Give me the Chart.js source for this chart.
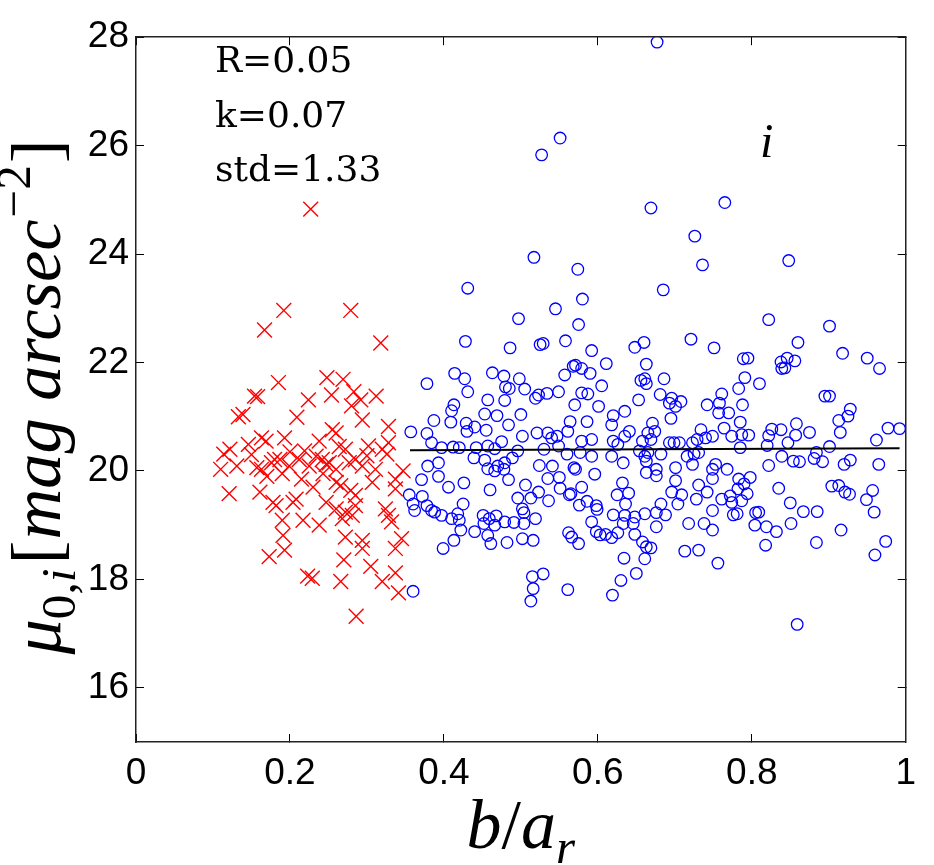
<!DOCTYPE html>
<html>
<head>
<meta charset="utf-8">
<script src="https://cdn.jsdelivr.net/npm/chart.js@4.4.0/dist/chart.umd.min.js"></script>
<style>
  html, body { margin: 0; padding: 0; background: #fff; }
  #wrap { width: 934px; height: 865px; position: relative; }
</style>
</head>
<body>
<div id="wrap"><canvas id="chart"></canvas></div>
<script>
// axis ticks
const xTicks = [0, 0.2, 0.4, 0.6, 0.8, 1];
const yTicks = [16, 18, 20, 22, 24, 26, 28];

// red crosses (b/a_r < 0.35)
const crossX = [0.192, 0.279, 0.167, 0.318, 0.227, 0.185, 0.248, 0.269, 0.158, 0.224, 0.254, 0.283, 0.292, 0.312, 0.280,
  0.133, 0.139, 0.209, 0.294, 0.328, 0.255, 0.260, 0.122, 0.114, 0.146, 0.163, 0.169, 0.193, 0.219, 0.234,
  0.242, 0.251, 0.272, 0.285, 0.302, 0.320, 0.326, 0.328, 0.110, 0.131, 0.157, 0.163, 0.176, 0.180, 0.187,
  0.199, 0.212, 0.225, 0.247, 0.260, 0.277, 0.294, 0.311, 0.347, 0.337, 0.121, 0.161, 0.178, 0.182, 0.208,
  0.204, 0.230, 0.247, 0.260, 0.266, 0.279, 0.285, 0.307, 0.337, 0.260, 0.272, 0.285, 0.324, 0.328, 0.332,
  0.190, 0.217, 0.238, 0.268, 0.281, 0.191, 0.272, 0.294, 0.294, 0.345, 0.337, 0.173, 0.193, 0.223, 0.229,
  0.266, 0.270, 0.305, 0.320, 0.337, 0.341, 0.286, 0.154, 0.150, 0.238, 0.264, 0.300, 0.243, 0.215, 0.190,
  0.170, 0.200];
const crossY = [22.96, 22.96, 22.60, 22.36, 24.83, 21.63, 21.72, 21.69, 21.37, 21.31, 21.40, 21.46, 21.31, 21.38, 21.20,
  21.00, 21.04, 20.99, 20.94, 20.82, 20.76, 20.70, 20.40, 20.31, 20.49, 20.61, 20.55, 20.61, 20.37, 20.27,
  20.21, 20.15, 20.40, 20.21, 20.46, 20.40, 20.31, 20.52, 20.03, 20.09, 20.06, 20.03, 20.15, 20.21, 20.21,
  20.09, 20.21, 20.09, 20.12, 20.03, 20.15, 20.09, 20.03, 20.00, 19.85, 19.58, 19.61, 19.42, 19.36, 19.48,
  19.42, 19.70, 19.42, 19.79, 19.73, 19.64, 19.55, 19.79, 19.67, 19.30, 19.24, 19.36, 19.30, 19.18, 19.06,
  19.09, 19.09, 19.00, 19.12, 19.18, 18.81, 18.78, 18.72, 18.57, 18.75, 18.57, 18.42, 18.54, 18.06, 18.02,
  17.96, 18.36, 18.24, 17.96, 18.12, 17.75, 17.32, 21.38, 20.30, 20.55, 20.45, 20.28, 19.95, 19.85, 19.95,
  19.90, 20.35];

// blue circles (b/a_r > 0.35)
const circleX = [0.677, 0.551, 0.527, 0.669, 0.765, 0.726, 0.736, 0.848, 0.517, 0.574, 0.431, 0.580, 0.685, 0.545, 0.497,
  0.575, 0.822, 0.901, 0.721,
  0.428, 0.486, 0.525, 0.529, 0.558, 0.568, 0.378, 0.414, 0.427, 0.431, 0.463, 0.478, 0.480, 0.485, 0.498,
  0.505, 0.519, 0.523, 0.534, 0.549, 0.557, 0.457, 0.479, 0.413, 0.410, 0.387, 0.409, 0.453, 0.469, 0.500,
  0.484, 0.429, 0.440, 0.430, 0.455, 0.357, 0.378, 0.502, 0.521, 0.535, 0.540, 0.547, 0.561, 0.564, 0.384,
  0.397, 0.412, 0.420, 0.442, 0.457, 0.475, 0.466, 0.496, 0.530, 0.549, 0.393, 0.379, 0.439, 0.453, 0.470,
  0.479, 0.489, 0.524, 0.541, 0.560, 0.569,
  0.371, 0.393, 0.406, 0.426, 0.460, 0.457, 0.466, 0.484, 0.478, 0.506, 0.523, 0.535, 0.550, 0.551, 0.563,
  0.536, 0.513, 0.496, 0.502, 0.504, 0.355, 0.360, 0.362, 0.372, 0.378, 0.384, 0.388, 0.397, 0.410, 0.418,
  0.425, 0.420, 0.422, 0.440, 0.451, 0.452, 0.459, 0.468, 0.466, 0.457, 0.461, 0.479, 0.491, 0.504, 0.519,
  0.413, 0.399, 0.482, 0.502, 0.516, 0.562, 0.566, 0.515, 0.529, 0.516, 0.513, 0.561, 0.360,
  0.648, 0.660, 0.751, 0.789, 0.592, 0.611, 0.663, 0.571, 0.579, 0.590, 0.656, 0.661, 0.663, 0.686, 0.605,
  0.579, 0.587, 0.681, 0.696, 0.708, 0.693, 0.701, 0.653, 0.761, 0.783, 0.788, 0.742, 0.758, 0.570, 0.601,
  0.757, 0.770, 0.695, 0.785, 0.635, 0.620, 0.586, 0.618, 0.671, 0.641, 0.635, 0.665, 0.674, 0.734, 0.749,
  0.764, 0.774, 0.787, 0.579, 0.592, 0.620, 0.626, 0.658, 0.669, 0.693, 0.699, 0.706, 0.723, 0.729, 0.740,
  0.785, 0.577, 0.592, 0.618, 0.654, 0.661, 0.665, 0.682, 0.716, 0.725, 0.731, 0.633, 0.663, 0.723, 0.753,
  0.571, 0.596, 0.676, 0.701, 0.749, 0.768,
  0.663, 0.676, 0.701, 0.749, 0.783, 0.731, 0.742, 0.565, 0.579, 0.632, 0.625, 0.640, 0.636, 0.696, 0.709,
  0.728, 0.761, 0.772, 0.774, 0.787, 0.576, 0.586, 0.598, 0.599, 0.682, 0.704, 0.749, 0.776, 0.620, 0.635,
  0.648, 0.661, 0.676, 0.688, 0.592, 0.633, 0.646, 0.676, 0.718, 0.738, 0.749, 0.575, 0.598, 0.603, 0.610,
  0.618, 0.626, 0.648, 0.658, 0.663, 0.669, 0.713, 0.731, 0.634, 0.661, 0.756, 0.650, 0.630, 0.619,
  0.860, 0.918, 0.950, 0.966, 0.795, 0.838, 0.846, 0.856, 0.839, 0.843, 0.791, 0.810, 0.895, 0.901, 0.928,
  0.925, 0.913, 0.915, 0.796, 0.826, 0.838, 0.822, 0.858, 0.857, 0.875, 0.820, 0.847, 0.901, 0.884, 0.977,
  0.992, 0.962, 0.839, 0.854, 0.862, 0.881, 0.892, 0.920, 0.928, 0.822, 0.965,
  0.798, 0.782, 0.794, 0.781, 0.835, 0.904, 0.913, 0.921, 0.927, 0.957, 0.949, 0.959, 0.850, 0.867, 0.885,
  0.805, 0.809, 0.804, 0.819, 0.832, 0.851, 0.916, 0.818, 0.884, 0.974, 0.960, 0.859, 0.790];
const circleY = [27.91, 26.14, 25.83, 24.85, 24.95, 24.33, 23.80, 23.88, 23.94, 23.72, 23.37, 23.17, 23.34, 22.99, 22.81,
  22.70, 22.79, 22.67, 22.43,
  22.39, 22.27, 22.33, 22.35, 22.40, 21.93, 21.61, 21.80, 21.70, 21.46, 21.81, 21.75, 21.55, 21.52, 21.70,
  21.51, 21.34, 21.40, 21.43, 21.46, 21.77, 21.31, 21.30, 21.22, 21.11, 20.93, 20.90, 21.05, 21.02, 21.04,
  20.85, 20.88, 20.81, 20.73, 20.75, 20.72, 20.69, 20.64, 20.70, 20.70, 20.61, 20.64, 20.73, 20.91, 20.52,
  20.43, 20.44, 20.43, 20.43, 20.46, 20.54, 20.41, 20.37, 20.40, 20.46, 20.15, 20.09, 20.24, 20.20, 20.09,
  20.15, 20.24, 20.10, 20.09, 20.31, 20.06,
  19.84, 19.90, 19.70, 19.78, 19.65, 20.04, 20.00, 19.84, 20.03, 19.74, 19.61, 19.86, 19.88, 19.68, 19.56,
  19.45, 19.50, 19.50, 19.30, 19.23, 19.56, 19.39, 19.27, 19.53, 19.36, 19.27, 19.24, 19.18, 19.12, 19.21,
  19.39, 19.09, 18.91, 18.88, 19.18, 19.03, 19.12, 19.17, 19.00, 18.81, 18.66, 19.06, 19.05, 19.03, 19.12,
  18.72, 18.57, 18.68, 18.75, 18.72, 18.86, 18.78, 18.05, 18.10, 17.83, 17.60, 17.81, 17.78,
  22.28, 22.37, 22.27, 22.07, 22.22, 21.98, 21.97, 21.95, 21.89, 21.80, 21.67, 21.70, 21.61, 21.70, 21.57,
  21.44, 21.42, 21.41, 21.34, 21.28, 21.25, 21.19, 21.31, 21.42, 21.52, 21.22, 21.22, 21.25, 21.22, 21.19,
  21.07, 21.07, 20.97, 20.90, 21.10, 21.02, 20.91, 20.85, 20.88, 20.73, 20.64, 20.70, 20.73, 20.76, 20.64,
  20.79, 20.64, 20.67, 20.55, 20.58, 20.55, 20.49, 20.55, 20.58, 20.52, 20.52, 20.52, 20.52, 20.58, 20.61,
  20.43, 20.34, 20.27, 20.27, 20.37, 20.27, 20.34, 20.31, 20.27, 20.31, 20.34, 20.15, 20.18, 20.12, 20.12,
  20.03, 19.94, 20.03, 20.06, 20.03, 20.03,
  19.97, 19.91, 19.82, 19.86, 19.85, 19.74, 19.61, 19.58, 19.70, 19.78, 19.56, 19.59, 19.39, 19.61, 19.56,
  19.48, 19.48, 19.54, 19.42, 19.45, 19.37, 19.44, 19.36, 19.29, 19.39, 19.39, 19.27, 19.19, 19.19, 19.18,
  19.15, 19.21, 19.23, 19.19, 19.06, 19.03, 19.03, 18.97, 19.03, 19.03, 18.91, 18.66, 18.88, 18.82, 18.83,
  18.77, 18.86, 18.83, 18.69, 18.60, 18.58, 18.52, 18.54, 18.39, 18.38, 18.30, 18.11, 17.98, 17.71,
  22.37, 22.17, 22.08, 21.89, 22.08, 22.01, 22.08, 22.03, 21.89, 21.90, 21.72, 21.61, 21.38, 21.38, 21.14,
  21.01, 20.93, 20.71, 20.66, 20.77, 20.76, 20.65, 20.87, 20.66, 20.71, 20.47, 20.52, 20.45, 20.34, 20.79,
  20.78, 20.57, 20.27, 20.18, 20.17, 20.23, 20.17, 20.12, 20.20, 20.10, 20.12,
  19.88, 19.67, 19.58, 19.21, 19.68, 19.72, 19.73, 19.61, 19.57, 19.64, 19.47, 19.24, 19.41, 19.25, 19.25,
  19.23, 19.24, 19.00, 18.97, 18.88, 19.03, 18.91, 18.63, 18.68, 18.70, 18.45, 17.17, 19.76];

// linear fit over the circles
const fitX = [0.356, 0.992];
const fitY = [20.38, 20.42];

const notes = ['R=0.05', 'k=0.07', 'std=1.33'];
const bandLabel = 'i';

const toPoints = (xs, ys) => xs.map((x, i) => ({ x: x, y: ys[i] }));

// rich text helpers for the math style axis titles
function partFont(p, size) {
  const s = size * (p.small ? 0.7 : 1);
  return (p.italic ? 'italic ' : '') + s.toFixed(1) + 'px "Liberation Serif"';
}
function richWidth(ctx, parts, size) {
  let w = 0;
  parts.forEach(p => {
    ctx.font = partFont(p, size);
    w += ctx.measureText(p.t).width + (p.gap || 0) * size;
  });
  return w;
}
function drawRich(ctx, parts, x, y, size) {
  parts.forEach(p => {
    ctx.font = partFont(p, size);
    ctx.fillText(p.t, x, y + (p.dy || 0) * size);
    x += ctx.measureText(p.t).width + (p.gap || 0) * size;
  });
}

const xTitle = [
  { t: 'b', italic: true }, { t: '/' }, { t: 'a', italic: true },
  { t: 'r', italic: true, small: true, dy: 0.22 }
];
const yTitle = [
  { t: 'μ', italic: true },
  { t: '0,', small: true, dy: 0.22 },
  { t: 'i', italic: true, small: true, dy: 0.22, gap: 0.06 },
  { t: '[', gap: 0.02 },
  { t: 'mag', italic: true, gap: 0.25 },
  { t: 'arcsec', italic: true, gap: 0.03 },
  { t: '−2', small: true, dy: -0.42, gap: 0.03 },
  { t: ']' }
];

const textPlugin = {
  id: 'textPlugin',
  afterDraw(chart) {
    const ctx = chart.ctx;
    const area = chart.chartArea;
    ctx.save();
    ctx.fillStyle = '#000';
    ctx.textBaseline = 'alphabetic';
    ctx.textAlign = 'left';

    // notes in the corner
    ctx.font = '36px "DejaVu Serif"';
    const noteBase = [72, 127, 181];
    notes.forEach((n, i) => ctx.fillText(n, area.left + 79, noteBase[i]));

    ctx.font = 'italic 48px "Liberation Serif"';
    ctx.fillText(bandLabel, 760, 157);

    // x title
    const xs = 70;
    const xw = richWidth(ctx, xTitle, xs);
    drawRich(ctx, xTitle, (area.left + area.right) / 2 - xw / 2, 848, xs);

    // y title, rotated
    const w0 = richWidth(ctx, yTitle, 60);
    const ys = 60 * 515 / w0;
    const yw = richWidth(ctx, yTitle, ys);
    ctx.translate(60, 397);
    ctx.rotate(-Math.PI / 2);
    drawRich(ctx, yTitle, -yw / 2, 0, ys);
    ctx.restore();
  }
};

const tickFont = { family: '"Liberation Sans", Arial, sans-serif', size: 37 };
const gridInside = { drawOnChartArea: false, tickLength: -8, tickColor: '#000', tickWidth: 1 };
const frame = { display: true, color: '#222', width: 1.5 };

new Chart(document.getElementById('chart'), {
  type: 'scatter',
  data: {
    datasets: [
      {
        type: 'line',
        data: toPoints(fitX, fitY),
        borderColor: '#000',
        borderWidth: 2,
        pointRadius: 0,
        order: 0
      },
      {
        data: toPoints(crossX, crossY),
        pointStyle: 'crossRot',
        pointRadius: 10.5,
        borderColor: '#ff0000',
        pointBorderColor: '#ff0000',
        borderWidth: 1.4,
        order: 1
      },
      {
        data: toPoints(circleX, circleY),
        pointStyle: 'circle',
        pointRadius: 5.8,
        borderColor: '#0000ff',
        pointBorderColor: '#0000ff',
        backgroundColor: 'rgba(0,0,0,0)',
        borderWidth: 1.3,
        order: 2
      }
    ]
  },
  options: {
    responsive: true,
    maintainAspectRatio: false,
    animation: false,
    events: [],
    layout: { padding: { top: 30, right: 20, left: 0, bottom: 0 } },
    plugins: { legend: { display: false }, tooltip: { enabled: false } },
    scales: {
      x: {
        type: 'linear', position: 'bottom', min: 0, max: 1,
        afterBuildTicks: s => { s.ticks = xTicks.map(v => ({ value: v })); },
        afterFit: s => { s.height = 123; },
        ticks: { font: tickFont, color: '#000', padding: 18, maxRotation: 0, autoSkip: false,
                 callback: v => String(v) },
        grid: gridInside,
        border: frame
      },
      y: {
        type: 'linear', position: 'left', min: 15, max: 28,
        afterBuildTicks: s => { s.ticks = yTicks.map(v => ({ value: v })); },
        afterFit: s => { s.width = 136; },
        ticks: { font: tickFont, color: '#000', padding: 15, autoSkip: false,
                 callback: v => String(v) },
        grid: gridInside,
        border: frame
      },
      x2: {
        type: 'linear', position: 'top', min: 0, max: 1,
        afterBuildTicks: s => { s.ticks = xTicks.map(v => ({ value: v })); },
        afterFit: s => { s.height = 0; },
        ticks: { display: false },
        grid: gridInside,
        border: frame
      },
      y2: {
        type: 'linear', position: 'right', min: 15, max: 28,
        afterBuildTicks: s => { s.ticks = yTicks.map(v => ({ value: v })); },
        afterFit: s => { s.width = 0; },
        ticks: { display: false },
        grid: gridInside,
        border: frame
      }
    }
  },
  plugins: [textPlugin]
});
</script>
</body>
</html>
